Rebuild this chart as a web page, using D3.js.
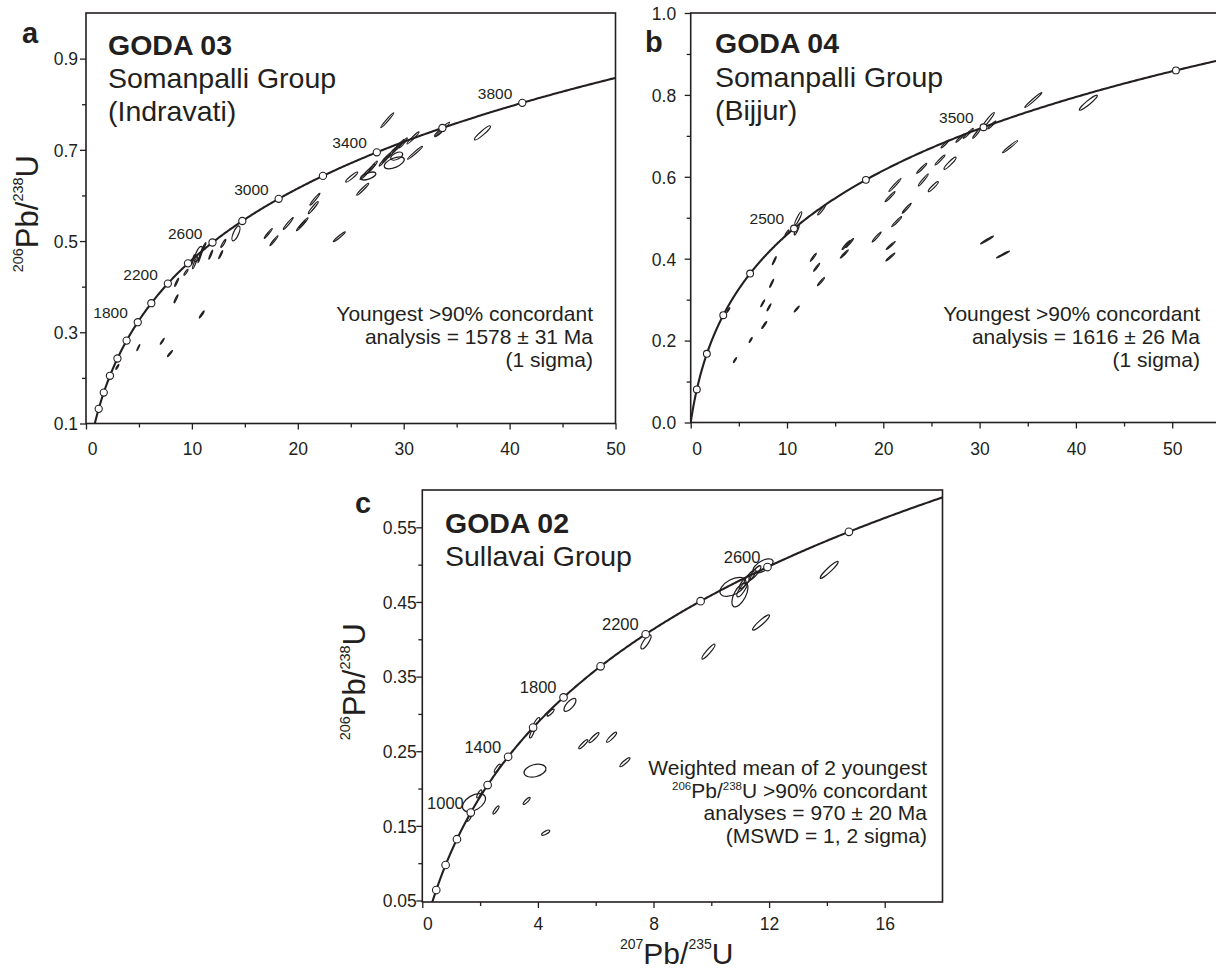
<!DOCTYPE html>
<html>
<head>
<meta charset="utf-8">
<script src="https://cdn.jsdelivr.net/npm/d3@7"></script>
<style>
  body { margin: 0; background: #fff; }
  svg { display: block; }
  text { font-family: "Liberation Sans", Arial, Helvetica, sans-serif; fill: #231f20; }
</style>
</head>
<body>
<svg id="chart" width="1216" height="972"></svg>
<script>
// ---------------- DATA ----------------
// decay constants (per year)
const LAMBDA_238 = 1.55125e-10;
const LAMBDA_235 = 9.8485e-10;

// concordia age markers (Ma)
const concordiaAgesA = [800,1000,1200,1400,1600,1800,2000,2200,2400,2600,2800,3000,3200,3400,3600,3800];
const labeledAgesA   = [1800,2200,2600,3000,3400,3800];
const concordiaAgesB = [500,1000,1500,2000,2500,3000,3500,4000];
const labeledAgesB   = [2500,3500];
const concordiaAgesC = [400,600,800,1000,1200,1400,1600,1800,2000,2200,2400,2600,2800];
const labeledAgesC   = [1000,1400,1800,2200,2600];

// tick values
const xTicksA = [0,10,20,30,40,50];
const xMinorA = [5,15,25,35,45];
const yTicksA = [0.1,0.3,0.5,0.7,0.9];
const yMinorA = [0.2,0.4,0.6,0.8];
const xTicksB = [0,10,20,30,40,50];
const xMinorB = [5,15,25,35,45];
const yTicksB = [0.0,0.2,0.4,0.6,0.8,1.0];
const yMinorB = [0.1,0.3,0.5,0.7,0.9];
const xTicksC = [0,4,8,12,16];
const xMinorC = [2,6,10,14];
const yTicksC = [0.05,0.15,0.25,0.35,0.45,0.55];
const yMinorC = [0.1,0.2,0.3,0.4,0.5];

// analyses: [207Pb/235U, 206Pb/238U, err 207/235, err 206/238, rho]
const ellipsesA = [
  [12.97,0.4948,0.236,0.0087,0.92],[14.16,0.5166,0.378,0.0164,0.70],
  [10.29,0.4526,0.236,0.0131,0.93],[10.60,0.4716,0.378,0.0164,0.75],
  [10.76,0.4657,0.189,0.0131,0.95],[10.95,0.4788,0.189,0.0109,0.95],
  [10.10,0.4592,0.142,0.0109,0.95],[11.14,0.4876,0.189,0.0087,0.93],
  [9.44,0.4314,0.189,0.0066,0.90],[8.56,0.4096,0.189,0.0087,0.93],
  [8.50,0.3734,0.189,0.0087,0.93],[11.78,0.4701,0.189,0.0098,0.95],
  [12.72,0.4701,0.189,0.0087,0.95],[10.93,0.3391,0.236,0.0076,0.95],
  [4.94,0.2664,0.142,0.0066,0.95],[7.20,0.2801,0.189,0.0066,0.95],
  [7.93,0.2533,0.236,0.0066,0.95],[2.96,0.2240,0.142,0.0055,0.90],
  [17.21,0.5166,0.378,0.0109,0.97],[17.75,0.5007,0.378,0.0109,0.97],
  [19.10,0.5384,0.472,0.0131,0.97],[20.30,0.5334,0.425,0.0109,0.97],
  [20.54,0.5400,0.425,0.0109,0.97],[21.62,0.5917,0.472,0.0131,0.97],
  [21.46,0.5734,0.472,0.0131,0.96],[23.92,0.5094,0.567,0.0109,0.97],
  [25.09,0.6404,0.567,0.0109,0.93],[26.13,0.6135,0.567,0.0131,0.97],
  [26.35,0.6463,0.472,0.0109,0.96],[26.82,0.6572,0.472,0.0109,0.96],
  [27.13,0.6644,0.378,0.0109,0.96],[26.66,0.6426,0.708,0.0087,0.60],
  [28.39,0.6825,0.378,0.0109,0.96],[28.87,0.6934,0.378,0.0109,0.96],
  [29.34,0.7044,0.378,0.0109,0.96],[29.65,0.7118,0.378,0.0109,0.96],
  [29.96,0.7153,0.378,0.0109,0.96],[29.11,0.6716,0.944,0.0131,0.55],
  [29.34,0.6862,0.567,0.0087,0.50],[28.07,0.6753,0.378,0.0109,0.96],
  [30.88,0.7262,0.567,0.0131,0.97],[31.07,0.6934,0.708,0.0142,0.98],
  [28.45,0.7649,0.614,0.0164,0.98],[33.62,0.7452,0.708,0.0153,0.97],
  [33.43,0.7387,0.472,0.0098,0.95],[37.44,0.7371,0.755,0.0153,0.93]
];
const ellipsesB = [
  [3.90,0.2747,0.156,0.0061,0.90],[4.60,0.1526,0.156,0.0061,0.90],
  [6.23,0.2015,0.156,0.0061,0.90],[7.64,0.2381,0.260,0.0085,0.95],
  [7.48,0.2911,0.208,0.0085,0.95],[8.13,0.2813,0.208,0.0085,0.95],
  [8.41,0.3399,0.208,0.0098,0.95],[8.68,0.3951,0.208,0.0098,0.95],
  [11.01,0.2772,0.260,0.0073,0.95],[12.73,0.4034,0.312,0.0098,0.96],
  [13.08,0.3790,0.312,0.0098,0.96],[13.53,0.3438,0.363,0.0098,0.96],
  [16.13,0.4335,0.415,0.0110,0.97],[16.49,0.4383,0.415,0.0110,0.97],
  [15.95,0.4115,0.415,0.0098,0.97],[19.31,0.4530,0.467,0.0122,0.97],
  [20.77,0.4322,0.467,0.0098,0.97],[20.73,0.4042,0.467,0.0098,0.97],
  [11.17,0.4987,0.363,0.0159,0.90],[11.01,0.4701,0.260,0.0122,0.90],
  [10.00,0.4628,0.208,0.0073,0.90],[13.60,0.5189,0.415,0.0122,0.96],
  [21.21,0.5800,0.623,0.0159,0.98],[20.70,0.5514,0.519,0.0122,0.97],
  [22.43,0.5231,0.467,0.0122,0.97],[21.39,0.4904,0.519,0.0122,0.97],
  [23.99,0.6207,0.519,0.0122,0.97],[24.15,0.5922,0.519,0.0147,0.97],
  [25.19,0.5758,0.519,0.0122,0.93],[25.89,0.6410,0.519,0.0122,0.97],
  [26.93,0.6330,0.623,0.0147,0.93],[26.41,0.6801,0.415,0.0098,0.96],
  [27.96,0.6940,0.415,0.0098,0.96],[28.83,0.7062,0.519,0.0122,0.97],
  [29.70,0.7062,0.415,0.0122,0.96],[30.90,0.7387,0.623,0.0183,0.96],
  [31.26,0.7265,0.415,0.0098,0.96],[33.16,0.6735,0.779,0.0147,0.98],
  [30.77,0.4457,0.675,0.0098,0.98],[32.43,0.4103,0.675,0.0085,0.98],
  [35.58,0.7875,0.883,0.0183,0.98],[41.29,0.7810,0.935,0.0183,0.94]
];
const ellipsesC = [
  [1.789,0.1811,0.398,0.0121,0.45],[1.972,0.1928,0.0865,0.0054,0.80],
  [1.626,0.1602,0.069,0.0040,0.80],[2.550,0.1713,0.104,0.0054,0.85],
  [2.595,0.2272,0.104,0.0054,0.85],[3.900,0.2240,0.381,0.0087,0.30],
  [3.610,0.1834,0.121,0.0047,0.85],[4.270,0.1409,0.138,0.0034,0.75],
  [3.800,0.2745,0.0865,0.0067,0.80],[3.960,0.2897,0.104,0.0054,0.80],
  [4.440,0.3018,0.121,0.0047,0.85],[5.110,0.3121,0.208,0.0087,0.70],
  [5.570,0.2594,0.156,0.0060,0.90],[5.940,0.2682,0.173,0.0067,0.90],
  [6.550,0.2688,0.173,0.0067,0.90],[7.010,0.2353,0.173,0.0060,0.90],
  [7.740,0.3965,0.173,0.0094,0.80],[9.900,0.3835,0.225,0.0101,0.92],
  [11.720,0.4224,0.294,0.0101,0.92],[14.080,0.4930,0.311,0.0114,0.94],
  [10.750,0.4702,0.450,0.0127,0.50],[10.990,0.4595,0.277,0.0161,0.60],
  [11.170,0.4770,0.208,0.0094,0.85],[11.340,0.4837,0.208,0.0094,0.85],
  [11.510,0.4890,0.208,0.0094,0.85],[11.790,0.4984,0.346,0.0094,0.60],
  [11.060,0.4662,0.173,0.0094,0.80]
];

// texts
const panelLetters = ["a", "b", "c"];
const sampleNames = ["GODA 03", "GODA 04", "GODA 02"];
const groupNamesA = ["Somanpalli Group", "(Indravati)"];
const groupNamesB = ["Somanpalli Group", "(Bijjur)"];
const groupNamesC = ["Sullavai Group"];
const noteA = ["Youngest >90% concordant", "analysis = 1578 \u00b1 31 Ma", "(1 sigma)"];
const noteB = ["Youngest >90% concordant", "analysis = 1616 \u00b1 26 Ma", "(1 sigma)"];
const noteC = [
  [{t:"Weighted mean of 2 youngest"}],
  [{t:"206", s:1},{t:"Pb/"},{t:"238", s:1},{t:"U >90% concordant"}],
  [{t:"analyses = 970 \u00b1 20 Ma"}],
  [{t:"(MSWD = 1, 2 sigma)"}]
];

// ---------------- DRAWING ----------------
const svg = d3.select("#chart");
const INK = "#231f20";

function concordia(tMa) {
  return [Math.exp(LAMBDA_235 * tMa * 1e6) - 1, Math.exp(LAMBDA_238 * tMa * 1e6) - 1];
}

const panels = [
  { key: "a",
    x: d3.scaleLinear().domain([0, 50]).range([86, 615.5]),
    y: d3.scaleLinear().domain([0.1, 1.0]).range([423.5, 13]),
    xTicks: xTicksA, xMinor: xMinorA, yTicks: yTicksA, yMinor: yMinorA,
    yFmt: d3.format(".1f"), ellipses: ellipsesA,
    ages: concordiaAgesA, labeled: labeledAgesA,
    ageFont: 15.5, ageDx: 10, r: 3.6, xLabOff: 31, yLabGap: 8, zeroDx: 6 },
  { key: "b",
    x: d3.scaleLinear().domain([0, 55]).range([690.7, 690.7 + 55 * 9.63]),
    y: d3.scaleLinear().domain([0, 1.0]).range([422.5, 13]),
    xTicks: xTicksB, xMinor: xMinorB, yTicks: yTicksB, yMinor: yMinorB,
    yFmt: d3.format(".1f"), ellipses: ellipsesB,
    ages: concordiaAgesB, labeled: labeledAgesB,
    ageFont: 15.5, ageDx: 10, r: 3.4, xLabOff: 32.5, yLabGap: 14.5, zeroDx: 6 },
  { key: "c",
    x: d3.scaleLinear().domain([0, 18]).range([422.3, 942.5]),
    y: d3.scaleLinear().domain([0.048, 0.6]).range([902, 490]),
    xTicks: xTicksC, xMinor: xMinorC, yTicks: yTicksC, yMinor: yMinorC,
    yFmt: d3.format(".2f"), ellipses: ellipsesC,
    ages: concordiaAgesC, labeled: labeledAgesC,
    ageFont: 16.5, ageDx: 7, r: 3.8, xLabOff: 28, yLabGap: 5.5, zeroDx: 5 }
];

function ellipseGeom(d, x, y) {
  const cx = x(d[0]), cy = y(d[1]);
  const sx = Math.abs(x(d[0] + d[2]) - cx);
  const sy = Math.abs(y(d[1] + d[3]) - cy);
  const cxx = sx * sx, cyy = sy * sy, cxy = -d[4] * sx * sy;
  const tr = (cxx + cyy) / 2;
  const det = Math.sqrt(((cxx - cyy) / 2) ** 2 + cxy * cxy);
  const l1 = tr + det, l2 = Math.max(tr - det, 0.08);
  const ang = 0.5 * Math.atan2(2 * cxy, cxx - cyy) * 180 / Math.PI;
  return { cx, cy, rx: Math.sqrt(l1), ry: Math.sqrt(l2), ang };
}

const curveAges = d3.range(0, 4701, 5);

panels.forEach(p => {
  const [x0, x1] = p.x.range();
  const [yb, yt] = p.y.range();
  const g = svg.append("g");

  const clipId = "clip-" + p.key;
  svg.append("clipPath").attr("id", clipId)
    .append("rect").attr("x", x0).attr("y", yt).attr("width", x1 - x0).attr("height", yb - yt);
  const plot = g.append("g").attr("clip-path", `url(#${clipId})`);

  // error ellipses
  plot.selectAll("ellipse.err").data(p.ellipses).join("ellipse")
    .attr("class", "err")
    .each(function (d) {
      const e = ellipseGeom(d, p.x, p.y);
      d3.select(this)
        .attr("transform", `translate(${e.cx},${e.cy}) rotate(${e.ang})`)
        .attr("rx", e.rx).attr("ry", e.ry);
    })
    .attr("fill", "none").attr("stroke", INK).attr("stroke-width", 1.25);

  // concordia curve
  const line = d3.line().x(t => p.x(concordia(t)[0])).y(t => p.y(concordia(t)[1]));
  plot.append("path").attr("d", line(curveAges))
    .attr("fill", "none").attr("stroke", INK).attr("stroke-width", 2.1);

  // age markers
  g.selectAll("circle.age").data(p.ages).join("circle")
    .attr("class", "age")
    .attr("cx", t => p.x(concordia(t)[0]))
    .attr("cy", t => p.y(concordia(t)[1]))
    .attr("r", p.r).attr("fill", "#fff").attr("stroke", INK).attr("stroke-width", 1.1);

  g.selectAll("text.agelab").data(p.labeled).join("text")
    .attr("class", "agelab")
    .attr("x", t => p.x(concordia(t)[0]) - p.ageDx)
    .attr("y", t => p.y(concordia(t)[1]) - 4)
    .attr("text-anchor", "end").attr("font-size", p.ageFont)
    .text(t => t);

  // frame
  g.append("rect").attr("x", x0).attr("y", yt).attr("width", x1 - x0).attr("height", yb - yt)
    .attr("fill", "none").attr("stroke", INK).attr("stroke-width", 1.6);

  // axes
  const xAxis = g.append("g").attr("transform", `translate(0,${yb})`)
    .call(d3.axisBottom(p.x).tickValues(p.xTicks).tickSize(6).tickFormat(d3.format("d")));
  const xMin = g.append("g").attr("transform", `translate(0,${yb})`)
    .call(d3.axisBottom(p.x).tickValues(p.xMinor).tickSize(4).tickFormat(""));
  const yAxis = g.append("g").attr("transform", `translate(${x0},0)`)
    .call(d3.axisLeft(p.y).tickValues(p.yTicks).tickSize(6).tickFormat(p.yFmt));
  const yMin = g.append("g").attr("transform", `translate(${x0},0)`)
    .call(d3.axisLeft(p.y).tickValues(p.yMinor).tickSize(4).tickFormat(""));
  [xAxis, xMin, yAxis, yMin].forEach(a => {
    a.select(".domain").remove();
    a.selectAll("line").attr("stroke", INK).attr("stroke-width", 1.3);
    a.selectAll("text").attr("font-size", 17.5).attr("fill", INK)
      .style("font-family", '"Liberation Sans", Arial, sans-serif');
  });
  xAxis.selectAll("text").attr("y", p.xLabOff).attr("dy", null)
    .attr("x", d => d === 0 ? p.zeroDx : 0);
  yAxis.selectAll("text").attr("x", -p.yLabGap).attr("dy", "0.36em");
});

// panel letters / titles
const titleSpecs = [
  { letter: [22, 43], name: [108, 55], groups: groupNamesA, gy: [88, 121] },
  { letter: [645, 52], name: [715, 53], groups: groupNamesB, gy: [87, 120] },
  { letter: [355, 513], name: [445, 533], groups: groupNamesC, gy: [566] }
];
titleSpecs.forEach((s, i) => {
  svg.append("text").attr("x", s.letter[0]).attr("y", s.letter[1])
    .attr("font-size", 29).attr("font-weight", "bold").text(panelLetters[i]);
  svg.append("text").attr("x", s.name[0]).attr("y", s.name[1])
    .attr("font-size", 28.5).attr("font-weight", "bold").text(sampleNames[i]);
  s.groups.forEach((gname, j) => {
    svg.append("text").attr("x", s.name[0]).attr("y", s.gy[j])
      .attr("font-size", 28.5).text(gname);
  });
});

// annotations
function note(lines, xr, y0, dy) {
  lines.forEach((ln, i) => {
    const t = svg.append("text").attr("x", xr).attr("y", y0 + i * dy)
      .attr("text-anchor", "end").attr("font-size", 21);
    const segs = Array.isArray(ln) ? ln : [{ t: ln }];
    let raised = false;
    segs.forEach(sg => {
      const ts = t.append("tspan").text(sg.t);
      if (sg.s) { ts.attr("font-size", 11.5).attr("dy", raised ? 0 : -8); raised = true; }
      else { ts.attr("dy", raised ? 8 : 0); raised = false; }
    });
  });
}
note(noteA, 593, 320.5, 23.4);
note(noteB, 1200, 320.5, 23.4);
note(noteC, 927, 775, 22.6);

// axis titles with superscripts
function isotopeTitle(sel, a, b, big, small, rise) {
  sel.append("tspan").attr("font-size", small).attr("dy", -rise).text(a);
  sel.append("tspan").attr("font-size", big).attr("dy", rise).text("Pb/");
  sel.append("tspan").attr("font-size", small).attr("dy", -rise).text(b);
  sel.append("tspan").attr("font-size", big).attr("dy", rise).text("U");
}
isotopeTitle(svg.append("text").attr("transform", "translate(38,155) rotate(-90)")
  .attr("text-anchor", "end"), "206", "238", 31, 14.5, 15);
isotopeTitle(svg.append("text").attr("transform", "translate(365,623) rotate(-90)")
  .attr("text-anchor", "end"), "206", "238", 31, 14.5, 15);
isotopeTitle(svg.append("text").attr("x", 620).attr("y", 964), "207", "235", 30, 14, 15);
</script>
</body>
</html>
